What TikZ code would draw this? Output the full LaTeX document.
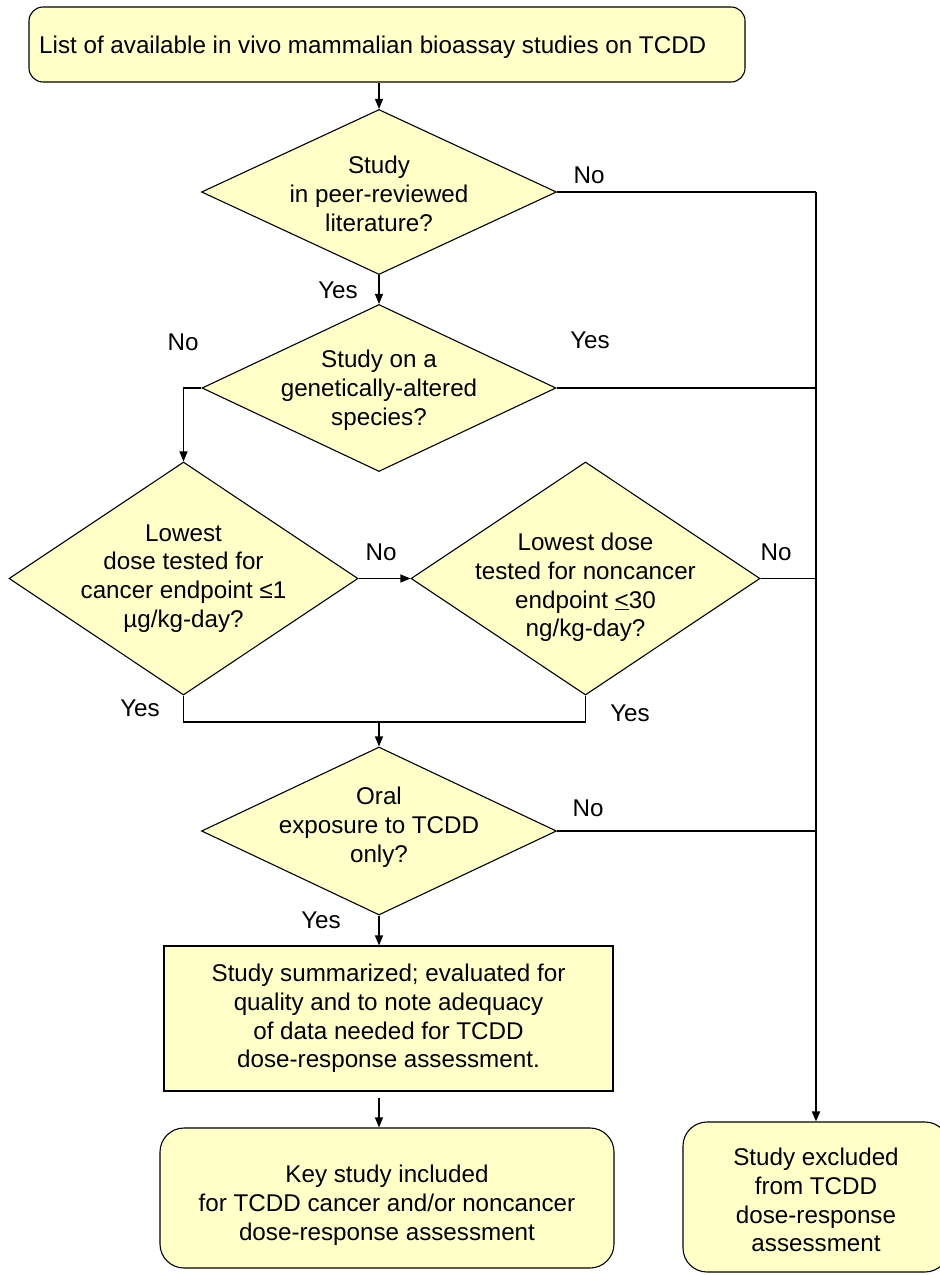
\documentclass[tikz,border=0pt]{standalone}
\usepackage{fontspec}
\setmainfont{Liberation Sans}
\usetikzlibrary{shapes.geometric,arrows.meta,calc}
\definecolor{fillY}{HTML}{FFFFC8}
\begin{document}
\begin{tikzpicture}[x=1pt,y=-1pt,
  every node/.style={font=\fontsize{24.2}{28.8}\selectfont},
  lw/.style={line width=1.1pt},
  rbox/.style={draw,lw,fill=fillY,rounded corners=14pt,inner sep=0},
  sbox/.style={draw,lw,fill=fillY,inner sep=0},
  dia/.style={draw,lw,fill=fillY,shape=diamond,inner sep=0},
  txt/.style={align=center,inner sep=0},
  lbl/.style={inner sep=0},
  conn/.style={lw},
  arr/.style={lw,-{Triangle[length=10pt,width=8pt]}}]
\useasboundingbox (0,0) rectangle (940,1275);
\clip (0,0) rectangle (940,1275);

% top box
\node[rbox,minimum width=716pt,minimum height=75pt] (top) at (387,44.5) {};
\node[lbl,anchor=base west] (toptxt) at (39,53) {List of available in vivo mammalian bioassay studies on TCDD};

% decision 1
\node[dia,minimum width=355pt,minimum height=165pt] (d1) at (379,192) {};
\node[txt] (d1t) at ([yshift=-2pt]d1.center) {Study\\in peer-reviewed\\literature?};
\draw[arr] (top.south -| d1.north) -- (d1.north);
\node[lbl] (no1) at (589,175) {No};
\coordinate (r1) at (816,192);
\draw[conn] (d1.east) -- (r1);
\node[lbl] (yes1) at (338,290) {Yes};

% decision 2
\node[dia,minimum width=354pt,minimum height=167pt] (d2) at (379,388) {};
\node[txt] (d2t) at ([yshift=-2pt]d2.center) {Study on a\\genetically-altered\\species?};
\draw[arr] (d1.south) -- (d2.north);
\node[lbl] (no2) at (183,342) {No};
\node[lbl] (yes2) at (590,340) {Yes};
\coordinate (r2) at (816,388);
\draw[conn] (d2.east) -- (r2);

% decisions 3 and 4
\node[dia,minimum width=349pt,minimum height=233pt] (d3) at (183.5,578.5) {};
\node[txt] (d3t) at (d3) {Lowest\\dose tested for\\cancer endpoint ≤1\\µg/kg-day?};
\draw[arr] (d2.west) -| (d3.north);
\node[dia,minimum width=349pt,minimum height=233pt] (d4) at (585.5,578.5) {};
\node[txt] (d4t) at ([yshift=-9pt]d4.center) {Lowest dose\\tested for noncancer\\endpoint \underline{<}30\\ng/kg-day?};
\draw[arr] (d3.east) -- (d4.west);
\node[lbl] (no3) at (381,552) {No};
\node[lbl] (no4) at (776,552) {No};
\coordinate (r3) at (816,578.5);
\draw[conn] (d4.east) -- (r3);
\coordinate (m) at (379,722);
\draw[conn] (d3.south) |- (m) -| (d4.south);
\node[lbl] (yes3) at (140,708) {Yes};
\node[lbl] (yes4) at (630,713) {Yes};

% decision 5
\node[dia,minimum width=355pt,minimum height=168pt] (d5) at (379,831) {};
\node[txt] (d5t) at ([yshift=4pt]d5.center) {Oral\\exposure to TCDD\\only?};
\draw[arr] (m) -- (d5.north);
\node[lbl] (no5) at (588,808) {No};
\coordinate (r5) at (816,831);
\draw[conn] (d5.east) -- (r5);
\node[lbl] (yes5) at (321,920) {Yes};

% summary box
\node[sbox,minimum width=449pt,minimum height=145pt] (sum) at (388.5,1018.5) {};
\node[txt] (sumt) at (sum) {Study summarized; evaluated for\\quality and to note adequacy\\of data needed for TCDD\\dose-response assessment.};
\draw[arr] (d5.south) -- (d5.south |- sum.north);

% key study
\node[rbox,rounded corners=24pt,minimum width=454pt,minimum height=140pt] (key) at (387,1198) {};
\node[txt] (keyt) at ([yshift=-7pt]key.center) {Key study included\\for TCDD cancer and/or noncancer\\dose-response assessment};
\draw[arr] ([yshift=-6pt]sum.south -| d5.south) -- (key.north -| d5.south);

% excluded
\node[rbox,rounded corners=24pt,minimum width=266pt,minimum height=150pt] (exc) at (816,1197) {};
\node[txt] (exct) at ([yshift=-3pt]exc.center) {Study excluded\\from TCDD\\dose-response\\assessment};
\draw[conn] (r1) -- (r5);
\draw[arr,line width=1.8pt] (r5) -- (r5 |- exc.north);
\end{tikzpicture}
\end{document}
